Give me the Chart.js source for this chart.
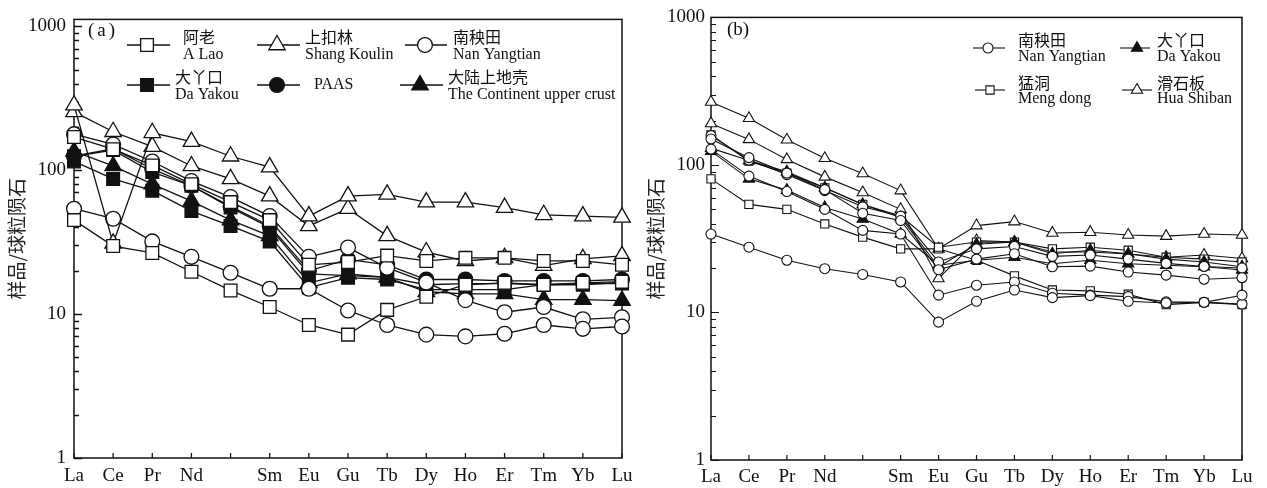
<!DOCTYPE html>
<html><head><meta charset="utf-8">
<script src="https://cdn.jsdelivr.net/npm/chart.js@4.4.1/dist/chart.umd.min.js"></script>
<style>
html,body{margin:0;padding:0;background:#fff;}
body{width:1267px;height:488px;position:relative;overflow:hidden;}
canvas{position:absolute;top:0;}
#ca{left:0;} #cb{left:640px;}
</style></head><body>
<canvas id="ca" width="640" height="488"></canvas>
<canvas id="cb" width="627" height="488"></canvas>
<script>
// ---------- categories & ticks ----------
const elements = ['La','Ce','Pr','Nd','','Sm','Eu','Gu','Tb','Dy','Ho','Er','Tm','Yb','Lu'];
const yTickValues = [1, 10, 100, 1000];
const yTitle = '样品/球粒陨石';

// ---------- panel (a) ----------
const aLao1        = [45, 29.7, 26.6, 19.7, 14.6, 11.2, 8.4, 7.2, 10.7, 13.2, 16, 16.5, 16, 16.5, 16.8];
const aLao2        = [170, 140, 108, 80, 60, 45, 22, 23, 25.5, 23.4, 24.6, 24.6, 23.4, 23.4, 22];
const shangKoulin1 = [283, 31, 182, 158, 125, 105, 48, 66, 68, 60, 60, 55, 49, 48, 47];
const shangKoulin2 = [254, 185, 146, 107, 87, 66, 41, 54, 35, 27, 23.4, 24.6, 21.7, 24.2, 25.4];
const nanYangtian1 = [54, 46, 32, 25, 19.4, 15, 15, 10.6, 8.4, 7.2, 7.0, 7.3, 8.4, 7.9, 8.2];
const nanYangtian2 = [178, 151, 115, 84, 65, 48, 25, 29, 21, 16.6, 12.5, 10.3, 11.2, 9.2, 9.5];
const daYakou1     = [115, 87, 72, 52, 41, 32, 15.3, 17.9, 17.4, 14.8, 14.8, 14.8, 16, 16, 16.6];
const daYakou2     = [125, 138, 97, 78, 55, 40, 19, 18.5, 18, 16, 16.3, 16.3, 16, 16.3, 16.3];
const paas         = [125, 141, 102, 78, 56, 41, 20, 24, 22, 17.4, 17.4, 17, 17, 17, 17.4];
const ucc          = [135, 107, 80, 61, 45, 35, 16.5, 19, 18, 14.3, 13.8, 13.8, 12.6, 12.6, 12.4];
const legendTextA = [['阿老','A Lao'],['上扣林','Shang Koulin'],['南秧田','Nan Yangtian'],['大丫口','Da Yakou'],['PAAS'],['大陆上地壳','The Continent upper crust']];

// ---------- panel (b) ----------
const nanYangtianB1 = [34, 27.7, 22.6, 19.8, 18.1, 16.1, 8.6, 11.9, 14.2, 12.6, 13.0, 11.9, 11.6, 11.7, 13.1];
const nanYangtianB2 = [128, 84, 66, 50, 36, 34, 13.1, 15.3, 16.1, 13.5, 13.1, 12.8, 11.8, 11.7, 11.4];
const nanYangtianB3 = [150, 112, 88, 68, 47, 42, 19.5, 23, 25, 20.4, 20.6, 18.8, 17.9, 16.8, 17.2];
const nanYangtianB4 = [158, 108, 86, 67, 52, 45, 22, 27, 28, 24, 24.5, 23, 21.5, 20.5, 20];
const daYakouB1     = [124, 80.5, 67.5, 51.5, 43, 34, 20.9, 22.6, 23.7, 21.4, 22.6, 21.4, 20.9, 20.4, 19.4];
const daYakouB2     = [130, 107, 90, 70, 54, 44, 20.4, 29, 30, 25, 26.4, 25, 23, 22, 20.4];
const mengDongB1    = [160, 106, 88, 70, 54, 45, 27.7, 30, 30, 27, 27.7, 26.4, 23.7, 23, 22];
const mengDongB2    = [80.5, 54, 50, 39.8, 32.4, 27, 27, 22.6, 17.7, 14.2, 14, 13.3, 11.3, 11.7, 11.3];
const huaShibanB1   = [267, 207, 148, 111, 87.5, 67, 27, 38.8, 41.3, 34.6, 35, 33.5, 32.9, 34, 33.5];
const huaShibanB2   = [191, 149, 109, 83, 65, 50, 17, 30.7, 30, 25.7, 25.7, 24.9, 23.7, 24.5, 23.2];
const legendTextB = [['南秧田','Nan Yangtian'],['大丫口','Da Yakou'],['猛洞','Meng dong'],['滑石板','Hua Shiban']];

// ---------- styles ----------
const INK = '#111';
const STY = {
  oSq: {ps:'rect', fill:'#fff'}, fSq: {ps:'rect', fill:INK},
  oCi: {ps:'circle', fill:'#fff'}, fCi: {ps:'circle', fill:INK},
  oTr: {ps:'triangle', fill:'#fff'}, fTr: {ps:'triangle', fill:INK}
};
const RAD_A = {rect:9, circle:7.4, triangle:9.5};
const RAD_B = {rect:5.8, circle:5, triangle:6.5};

function ds(label, data, st, rad, lw) {
  const s = STY[st];
  return {
    label, data,
    borderColor: INK, borderWidth: lw,
    pointStyle: s.ps, pointRadius: rad[s.ps], pointBackgroundColor: s.fill,
    pointBorderColor: INK, pointBorderWidth: lw, pointHoverRadius: rad[s.ps],
    tension: 0, clip: false, fill: false
  };
}

function marker(ctx, ps, x, y, r, fill, lw) {
  ctx.save();
  ctx.beginPath();
  if (ps === 'rect') { const h = r * Math.SQRT1_2; ctx.rect(x - h, y - h, 2*h, 2*h); }
  else if (ps === 'circle') { ctx.arc(x, y, r, 0, Math.PI*2); }
  else { for (let k=0;k<3;k++){ const a = k*2*Math.PI/3; const px = x + Math.sin(a)*r, py = y - Math.cos(a)*r; k?ctx.lineTo(px,py):ctx.moveTo(px,py);} ctx.closePath(); }
  ctx.fillStyle = fill; ctx.fill();
  ctx.lineWidth = lw; ctx.strokeStyle = INK; ctx.stroke();
  ctx.restore();
}

const frameTicks = {
  id: 'frameTicks',
  beforeDatasetsDraw(chart, args, o) {
    const {ctx, chartArea: a} = chart;
    const x = chart.scales.x, y = chart.scales.y;
    ctx.save();
    ctx.strokeStyle = INK; ctx.lineWidth = o.lw;
    ctx.strokeRect(a.left, a.top, a.right - a.left, a.bottom - a.top);
    ctx.lineWidth = o.tw;
    ctx.beginPath();
    for (let i = 0; i < elements.length; i++) {
      const px = x.getPixelForValue(i);
      ctx.moveTo(px, a.bottom); ctx.lineTo(px, a.bottom - o.xTick);
    }
    for (let d = 1; d <= 1000; d *= 10) {
      for (let m = 1; m <= 9; m++) {
        const v = d * m; if (v < y.min || v > y.max) continue;
        const py = Math.round(y.getPixelForValue(v)) + 0.5;
        const len = m === 1 ? o.major : o.minor;
        ctx.moveTo(a.left, py); ctx.lineTo(a.left + len, py);
      }
    }
    ctx.stroke();
    ctx.restore();
  }
};

const legendPlug = {
  id: 'legendPlug',
  afterDraw(chart, args, o) {
    const ctx = chart.ctx;
    ctx.save();
    ctx.fillStyle = INK;
    ctx.textBaseline = 'middle'; ctx.textAlign = 'left';
    ctx.font = o.panelFont;
    if ('letterSpacing' in ctx) ctx.letterSpacing = o.panelSpacing;
    ctx.fillText(o.panel, o.panelX, o.panelY);
    if ('letterSpacing' in ctx) ctx.letterSpacing = '0px';
    o.items.forEach(it => {
      ctx.strokeStyle = INK; ctx.lineWidth = o.lw;
      ctx.beginPath(); ctx.moveTo(it.l0, it.ly); ctx.lineTo(it.l1, it.ly); ctx.stroke();
      const s = STY[it.st];
      marker(ctx, s.ps, it.mx, it.ly, o.rad[s.ps], s.fill, o.lw);
      ctx.fillStyle = INK;
      if (it.text.length === 2) {
        ctx.font = o.cnFont; ctx.fillText(it.text[0], it.tx, it.cy);
        ctx.font = o.enFont; ctx.fillText(it.text[1], it.tx, it.ey);
      } else {
        ctx.font = o.enFont; ctx.fillText(it.text[0], it.tx, it.ly);
      }
    });
    ctx.restore();
  }
};

function makeChart(id, datasets, cfg) {
  return new Chart(document.getElementById(id), {
    type: 'line',
    data: { labels: elements, datasets },
    options: {
      responsive: false, animation: false, devicePixelRatio: 1,
      events: [],
      layout: { padding: { top: 13, right: cfg.padRight, left: 0, bottom: 0 } },
      plugins: {
        legend: { display: false }, tooltip: { enabled: false },
        frameTicks: cfg.frame,
        legendPlug: cfg.legend
      },
      scales: {
        x: {
          type: 'category', offset: false,
          grid: { display: false, drawTicks: false }, border: { display: false },
          ticks: { autoSkip: false, maxRotation: 0, minRotation: 0, padding: cfg.xPad, color: INK,
                   font: { family: '"Liberation Serif", serif', size: 19 } },
          afterFit: s => { s.height = cfg.xH; }
        },
        y: {
          type: 'logarithmic', min: 1, max: cfg.yMax,
          grid: { display: false, drawTicks: false }, border: { display: false },
          afterBuildTicks: s => { s.ticks = yTickValues.filter(v => v <= cfg.yMax).map(v => ({ value: v })); },
          ticks: { padding: cfg.yPad, color: INK, autoSkip: false,
                   font: { family: '"Liberation Serif", serif', size: 19 },
                   callback: v => String(v) },
          title: { display: true, text: yTitle, color: '#222',
                   font: { family: '"Noto Sans CJK SC"', size: 19 },
                   padding: { top: cfg.titlePad, bottom: 0 } },
          afterFit: s => { s.width = cfg.yW; }
        }
      }
    },
    plugins: [frameTicks, legendPlug]
  });
}

// ----- chart (a) -----
const LWA = 1.3;
const dsA = [
  ds('阿老', aLao1, 'oSq', RAD_A, LWA),
  ds('阿老', aLao2, 'oSq', RAD_A, LWA),
  ds('上扣林', shangKoulin1, 'oTr', RAD_A, LWA),
  ds('上扣林', shangKoulin2, 'oTr', RAD_A, LWA),
  ds('南秧田', nanYangtian1, 'oCi', RAD_A, LWA),
  ds('南秧田', nanYangtian2, 'oCi', RAD_A, LWA),
  ds('大丫口', daYakou1, 'fSq', RAD_A, LWA),
  ds('大丫口', daYakou2, 'fSq', RAD_A, LWA),
  ds('PAAS', paas, 'fCi', RAD_A, LWA),
  ds('大陆上地壳', ucc, 'fTr', RAD_A, LWA)
];
makeChart('ca', dsA, {
  padRight: 18, xH: 30, yW: 74, yMax: Math.pow(10, 3 + 7/146), xPad: 7, yPad: 8, titlePad: 5,
  frame: { lw: 1.5, tw: 1.3, xTick: 5, major: 8, minor: 5 },
  legend: {
    panel: '(a)', panelX: 88, panelY: 31, panelFont: '19px "Liberation Serif", serif', panelSpacing: '3px',
    lw: 1.3, rad: RAD_A,
    cnFont: '16px "Noto Sans CJK SC"', enFont: '16px "Liberation Serif", serif',
    items: [
      { text: legendTextA[0], st: 'oSq', l0: 127, l1: 170, mx: 147, ly: 45, tx: 183, cy: 37, ey: 55 },
      { text: legendTextA[1], st: 'oTr', l0: 257, l1: 300, mx: 277, ly: 45, tx: 305, cy: 37, ey: 55 },
      { text: legendTextA[2], st: 'oCi', l0: 405, l1: 447, mx: 425, ly: 45, tx: 453, cy: 37, ey: 55 },
      { text: legendTextA[3], st: 'fSq', l0: 127, l1: 170, mx: 147, ly: 85, tx: 175, cy: 77, ey: 95 },
      { text: legendTextA[4], st: 'fCi', l0: 257, l1: 300, mx: 277, ly: 85, tx: 314, cy: 77, ey: 95 },
      { text: legendTextA[5], st: 'fTr', l0: 400, l1: 443, mx: 420, ly: 85, tx: 448, cy: 77, ey: 95 }
    ]
  }
});

// ----- chart (b) -----
const LWB = 1.1;
const dsB = [
  ds('南秧田', nanYangtianB1, 'oCi', RAD_B, LWB),
  ds('南秧田', nanYangtianB2, 'oCi', RAD_B, LWB),
  ds('南秧田', nanYangtianB3, 'oCi', RAD_B, LWB),
  ds('南秧田', nanYangtianB4, 'oCi', RAD_B, LWB),
  ds('大丫口', daYakouB1, 'fTr', RAD_B, LWB),
  ds('大丫口', daYakouB2, 'fTr', RAD_B, LWB),
  ds('猛洞', mengDongB1, 'oSq', RAD_B, LWB),
  ds('猛洞', mengDongB2, 'oSq', RAD_B, LWB),
  ds('滑石板', huaShibanB1, 'oTr', RAD_B, LWB),
  ds('滑石板', huaShibanB2, 'oTr', RAD_B, LWB)
];
makeChart('cb', dsB, {
  padRight: 25, xH: 28, yW: 71, yMax: 1000, xPad: 6, yPad: 6, titlePad: 4,
  frame: { lw: 1.5, tw: 1.2, xTick: 5, major: 8, minor: 5 },
  legend: {
    panel: '(b)', panelX: 87, panelY: 30, panelFont: '19px "Liberation Serif", serif', panelSpacing: '0px',
    lw: 1.1, rad: RAD_B,
    cnFont: '16px "Noto Sans CJK SC"', enFont: '16px "Liberation Serif", serif',
    items: [
      { text: legendTextB[0], st: 'oCi', l0: 333, l1: 365, mx: 348, ly: 48, tx: 378, cy: 40, ey: 57 },
      { text: legendTextB[1], st: 'fTr', l0: 480, l1: 510, mx: 497, ly: 48, tx: 517, cy: 40, ey: 57 },
      { text: legendTextB[2], st: 'oSq', l0: 335, l1: 365, mx: 350, ly: 90, tx: 378, cy: 83, ey: 99 },
      { text: legendTextB[3], st: 'oTr', l0: 482, l1: 512, mx: 497, ly: 90, tx: 517, cy: 83, ey: 99 }
    ]
  }
});
</script>
</body></html>
